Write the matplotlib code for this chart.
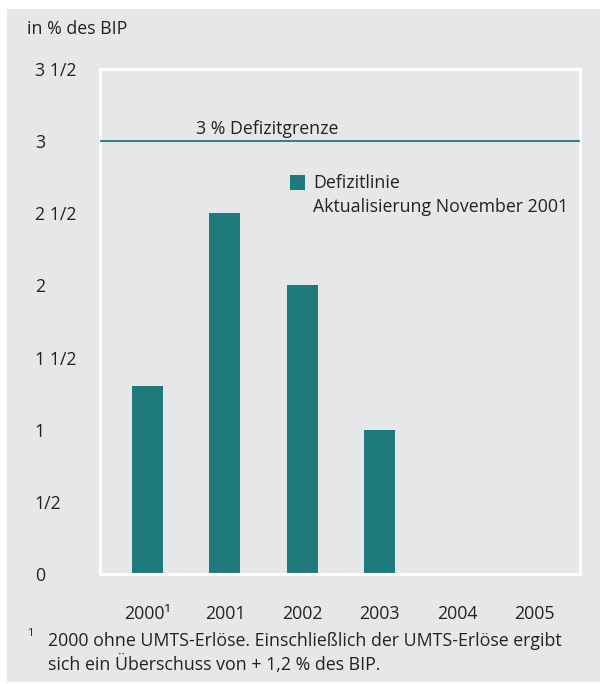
import matplotlib
matplotlib.use("Agg")
import matplotlib.pyplot as plt
from matplotlib.patches import Rectangle
import numpy as np

years = ["2000\u00b9", "2001", "2002", "2003", "2004", "2005"]
values = [1.3, 2.5, 2.0, 1.0, np.nan, np.nan]
ytick_vals = [0, 0.5, 1, 1.5, 2, 2.5, 3, 3.5]
ytick_labels = ["0", "1/2", "1", "1 1/2", "2", "2 1/2", "3", "3 1/2"]
limit_value = 3.0
limit_label = "3 % Defizitgrenze"
legend_lines = ["Defizitlinie", "Aktualisierung November 2001"]
unit_label = "in % des BIP"
footnote = ("2000 ohne UMTS-Erlöse. Einschließlich der UMTS-Erlöse ergibt\n"
            "sich ein Überschuss von + 1,2 % des BIP.")

plt.rcParams['font.family'] = ['Open Sans', 'DejaVu Sans']
TEAL = "#1f7a7c"
GRAY = "#e6e7e9"
TXT = "#222222"
FS = 12.8
W, H = 605, 684

fig = plt.figure(figsize=(W / 100, H / 100), dpi=100)
fig.patch.set_facecolor("white")
bg = Rectangle((7 / W, 1 - 682 / H), (600 - 7) / W, (682 - 9) / H,
               transform=fig.transFigure, facecolor=GRAY,
               edgecolor="none", zorder=-10)
fig.patches.append(bg)

ax = fig.add_axes([100 / W, 1 - 574 / H, 480 / W, (574 - 69) / H])
ax.set_zorder(1)
ax.set_facecolor(GRAY)
x = np.arange(len(years))
ax.bar(x, values, width=0.4, color=TEAL, zorder=2)
ax.axhline(limit_value, color=TEAL, lw=1.3, zorder=3)

ax.set_xlim(-0.614, 5.588)
ax.set_ylim(0, 3.5)
for s in ax.spines.values():
    s.set_color("white")
    s.set_linewidth(2.2)
ax.tick_params(length=0)
ax.set_yticks(ytick_vals)
ax.set_yticklabels(ytick_labels, fontsize=FS, color=TXT)
for lab in ax.get_yticklabels():
    lab.set_ha("left")
ax.tick_params(axis="y", pad=47)
ax.set_xticks(x)
ax.set_xticklabels(years, fontsize=FS, color=TXT)
ax.tick_params(axis="x", pad=22)

ax.text(0.348, limit_value + 0.02, limit_label, transform=ax.get_yaxis_transform(),
        ha="center", va="bottom", fontsize=FS, color=TXT)

# legend
fig.patches.append(Rectangle((290 / W, 1 - 190 / H), 15 / W, 15 / H,
                             transform=fig.transFigure, facecolor=TEAL,
                             edgecolor="none", zorder=5))
fig.text(313 / W, 1 - 183 / H, legend_lines[0], ha="left", va="center",
         fontsize=FS, color=TXT, zorder=6)
fig.text(313 / W, 1 - 207 / H, legend_lines[1], ha="left", va="center",
         fontsize=FS, color=TXT, zorder=6)

fig.text(27 / W, 1 - 29 / H, unit_label, ha="left", va="center",
         fontsize=FS, color=TXT)

fig.text(27 / W, 1 - 634 / H, "1", ha="left", va="center", fontsize=8, color=TXT)
fig.text(48 / W, 1 - 653 / H, footnote, ha="left", va="center",
         fontsize=FS, color=TXT, linespacing=1.3)

fig.savefig("out.png", dpi=100, facecolor="white")
